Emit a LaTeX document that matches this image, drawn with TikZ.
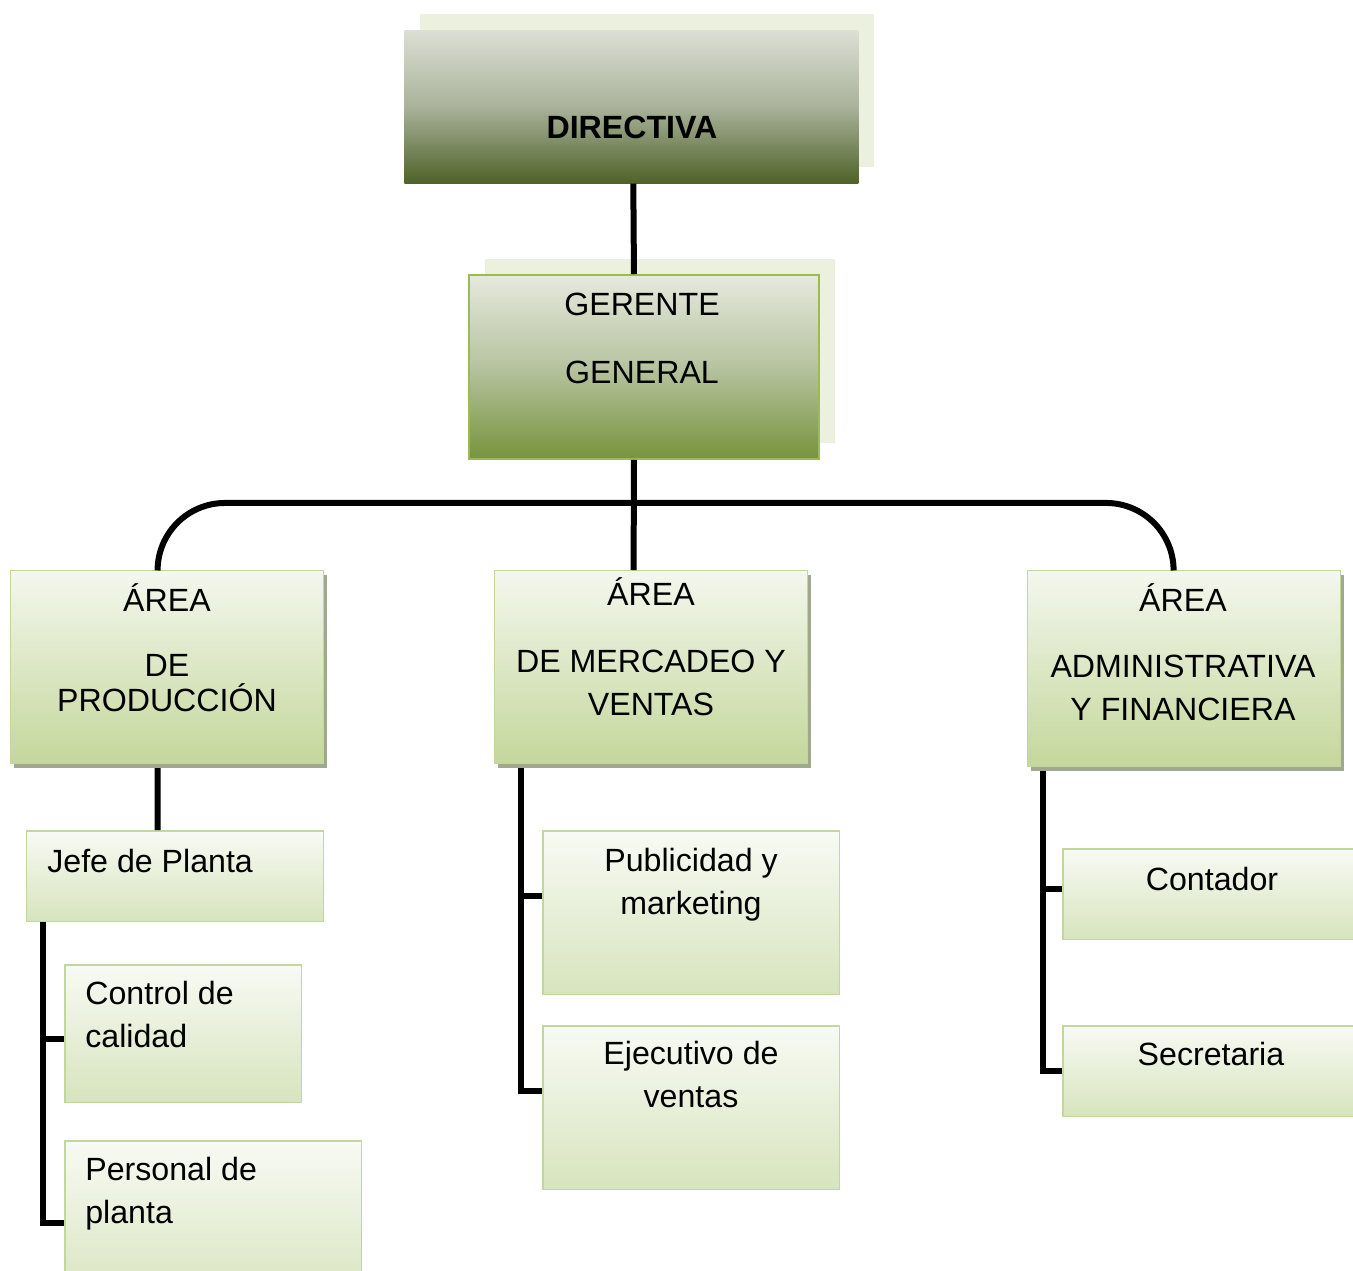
\documentclass[tikz,border=0pt]{standalone}
\usepackage{fontspec}
\setmainfont{Liberation Sans}
\usetikzlibrary{calc,shadows}

\definecolor{dirtop}{HTML}{DCDFD4}
\definecolor{dirmid}{HTML}{A9B29A}
\definecolor{dirbot}{HTML}{4F6228}
\definecolor{gertop}{HTML}{E6E9DD}
\definecolor{germid}{HTML}{B6C39F}
\definecolor{gerbot}{HTML}{77933C}
\definecolor{gerline}{HTML}{9BBB59}
\definecolor{backgreen}{HTML}{EBF1DE}
\definecolor{areatop}{HTML}{F4F7EE}
\definecolor{areabot}{HTML}{C4D79B}
\definecolor{areashade}{HTML}{A0A88E}
\definecolor{leaftop}{HTML}{F8FAF4}
\definecolor{leafbot}{HTML}{D7E4BD}
\definecolor{leafline}{HTML}{C3D69B}

\tikzset{
  conn/.style={line width=0.12cm, black},
  txt/.style={inner sep=0pt, align=center, anchor=base,
    font=\fontsize{18.3}{24.3}\selectfont},
  backbox/.style={general shadow={shadow xshift=0.32cm, shadow yshift=0.32cm,
    fill=backgreen}},
  dirbox/.style={backbox, anchor=north west, inner sep=0pt,
    top color=dirtop, bottom color=dirbot, middle color=dirmid},
  gerbox/.style={backbox, anchor=north west, inner sep=0pt, draw=gerline,
    line width=0.04cm, top color=gertop, bottom color=gerbot, middle color=germid},
  areabox/.style={general shadow={shadow xshift=0.07cm, shadow yshift=-0.08cm,
    fill=areashade}, anchor=north west, inner sep=0pt, draw=leafline,
    line width=0.025cm, top color=areatop, bottom color=areabot,
    minimum width=6.26cm},
  leafbox/.style={anchor=north west, inner sep=0pt, draw=leafline,
    line width=0.03cm, top color=leaftop, bottom color=leafbot,
    minimum width=5.94cm},
}

\begin{document}
\begin{tikzpicture}[x=0.02cm, y=-0.02cm]
    \useasboundingbox (0,0) rectangle (1353,1271);
    \clip (0,0) rectangle (1353,1271);

    % boxes
    \node[dirbox, minimum width=9.08cm, minimum height=3.06cm] (dir) at (404,30) {};
    \node[gerbox, minimum width=7cm, minimum height=3.68cm] (ger) at (468,274) {};

    \node[areabox, minimum height=3.86cm] (prod) at (10,570) {};
    \node[areabox, minimum height=3.86cm] (merc) at (494,570) {};
    \node[areabox, minimum height=3.92cm] (admin) at (1027,570) {};

    \node[leafbox, minimum height=1.82cm] (jefe) at (26,830) {};
    \node[leafbox, minimum width=4.74cm, minimum height=2.76cm] (ctrl) at (64,964) {};
    \node[leafbox, minimum height=3.28cm] (pers) at (64,1140) {};
    \node[leafbox, minimum height=3.28cm] (pub) at (542,830) {};
    \node[leafbox, minimum height=3.28cm] (ejec) at (542,1025) {};
    \node[leafbox, minimum height=1.82cm] (cont) at (1062,848) {};
    \node[leafbox, minimum height=1.82cm] (secr) at (1062,1025) {};

    % texts (base = last line)
    \node[txt, font=\fontsize{18.3}{24.3}\selectfont\bfseries] (dirt) at (632,138) {DIRECTIVA};
    \node[txt] (gert) at (642,383) {GERENTE\\[14.2pt]GENERAL};
    \node[txt] (prodt) at (167,711) {ÁREA\\[12.7pt]DE\\[-4.9pt]PRODUCCIÓN};
    \node[txt] (merct) at (651,715) {ÁREA\\[13.8pt]DE MERCADEO Y\\VENTAS};
    \node[txt] (admint) at (1183,720) {ÁREA\\[13.3pt]ADMINISTRATIVA\\Y FINANCIERA};
    \node[txt, anchor=base west] (jefet) at (47,872) {Jefe de Planta};
    \node[txt, anchor=base west, align=left] (ctrlt) at (85,1047) {Control de\\calidad};
    \node[txt, anchor=base west, align=left] (perst) at (85,1223) {Personal de\\planta};
    \node[txt] (pubt) at (691,914) {Publicidad y\\marketing};
    \node[txt] (eject) at (691,1107) {Ejecutivo de\\ventas};
    \node[txt] (contt) at (1212,890) {Contador};
    \node[txt] (secrt) at (1211,1065) {Secretaria};

    % connectors
    \draw[conn] ($(dir.south)+(2,0)$) -- ($(ger.north)+(-10,0)$);
    \draw[conn] ($(ger.south)+(-10,0)$) -- ($(merc.north)+(-17.5,0)$);
    \draw[conn, rounded corners=1.35cm] ($(prod.north)+(-9.5,0)$) |- ($(ger.south)+(0,43)$)
        -| ($(admin.north)+(-10.5,0)$);

    \draw[conn] ($(prod.south)+(-9.5,4)$) -- ($(jefe.north)+(-17.5,0)$);
    \draw[conn] ($(jefe.south west)+(17,0)$) |- ($(ctrl.west)+(0,5)$);
    \draw[conn] ($(jefe.south west)+(17,0)$) |- (pers.west);

    \draw[conn] ($(merc.south west)+(27,4)$) |- ($(pub.west)+(0,-17)$);
    \draw[conn] ($(merc.south west)+(27,4)$) |- ($(ejec.west)+(0,-17)$);

    \draw[conn] ($(admin.south west)+(16,4)$) |- ($(cont.west)+(0,-5.5)$);
    \draw[conn] ($(admin.south west)+(16,4)$) |- (secr.west);
\end{tikzpicture}
\end{document}
